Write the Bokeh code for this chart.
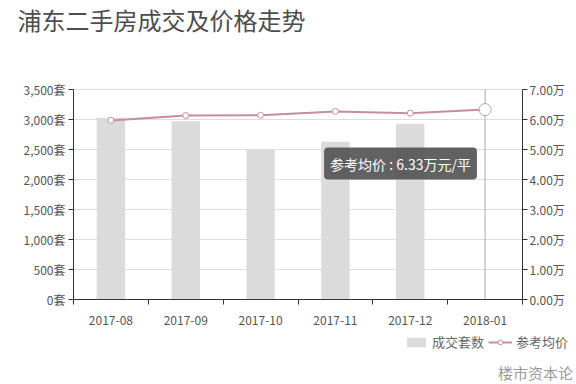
from bokeh.plotting import figure
from bokeh.models import (Range1d, LinearAxis, FixedTicker, CustomJSTickFormatter, Label,
                          Legend, LegendItem, ColumnDataSource)
from bokeh.embed import file_html
from bokeh.resources import INLINE
import numpy as np

months = ["2017-08", "2017-09", "2017-10", "2017-11", "2017-12", "2018-01"]
deals = [3030, 2970, 2490, 2630, 2930, np.nan]
prices = [5.97, 6.13, 6.14, 6.27, 6.21, 6.33]
deal_ticks = [0, 500, 1000, 1500, 2000, 2500, 3000, 3500]
price_ticks = [0, 1, 2, 3, 4, 5, 6, 7]
title_text = "浦东二手房成交及价格走势"
tooltip_text = "参考均价 : 6.33万元/平"
watermark = "楼市资本论"
legend_labels = ["成交套数", "参考均价"]

FONT = "Noto Sans CJK SC"
GREY = "#555555"

# layout in pixels (plot area of the axes inside the 576x384 canvas)
W, H = 576, 384
AX_TOP, AX_BOTTOM, AX_LEFT, AX_RIGHT = 89, 299, 73, 522

def extended_y(lo, hi):
    per_px = (hi - lo) / (AX_BOTTOM - AX_TOP)
    return Range1d(lo - (H - AX_BOTTOM) * per_px, hi + AX_TOP * per_px)

def extended_x(lo, hi):
    per_px = (hi - lo) / (AX_RIGHT - AX_LEFT)
    return Range1d(lo - AX_LEFT * per_px, hi + (W - AX_RIGHT) * per_px)

xs = list(range(1, len(months) + 1))
X0, X1 = xs[0] - 0.5, xs[-1] + 0.5
src = ColumnDataSource(dict(x=xs, deals=deals, prices=prices, month=months))

p = figure(width=W, height=H, output_backend="svg", toolbar_location=None, title=None,
           x_range=extended_x(X0, X1),
           y_range=extended_y(deal_ticks[0], deal_ticks[-1]),
           min_border_left=0, min_border_right=0, min_border_top=0, min_border_bottom=0)
p.outline_line_color = None
p.background_fill_color = "white"
p.border_fill_color = "white"
p.extra_y_ranges = {"price": extended_y(price_ticks[0], price_ticks[-1])}
p.xgrid.visible = False
p.ygrid.visible = False

# horizontal grid lines at the left-axis ticks
p.segment(x0=[X0] * len(deal_ticks), x1=[X1] * len(deal_ticks), y0=deal_ticks, y1=deal_ticks,
          line_color="#dddddd", line_width=1)

bars = p.vbar(x="x", top="deals", width=0.38, source=src, fill_color="#dcdbdc", line_color=None)
line = p.line(x="x", y="prices", source=src, y_range_name="price", line_color="#c48f9a", line_width=2)
pts = p.scatter(x="x", y="prices", source=src, y_range_name="price", size=6,
                fill_color="white", line_color="#c48f9a", line_width=1)

# hovered month: pointer line and emphasised point
Xlast = xs[-1]
p.segment(x0=[Xlast], y0=[deal_ticks[0]], x1=[Xlast], y1=[deal_ticks[-1]],
          line_color="#aaaaaa", line_width=1)
p.scatter(x=[Xlast], y=[prices[-1]], y_range_name="price", size=12,
          fill_color="white", line_color="#aaaaaa", line_width=1)

# x axis, drawn at y = 0
xa = p.xaxis[0]
xa.fixed_location = 0
xa.bounds = (X0, X1)
xa.ticker = FixedTicker(ticks=xs, minor_ticks=[v - 0.5 for v in xs] + [X1])
xa.major_label_overrides = {x: m for x, m in zip(xs, months)}
xa.major_tick_line_color = None
xa.minor_tick_line_color = "#333333"
xa.minor_tick_out = 5
xa.minor_tick_in = 0
xa.axis_line_color = "#333333"
xa.major_label_standoff = 10
xa.major_label_text_font = FONT
xa.major_label_text_font_size = "12px"
xa.major_label_text_color = GREY

# left axis
ya = p.yaxis[0]
ya.fixed_location = X0
ya.ticker = FixedTicker(ticks=deal_ticks)
ya.bounds = (deal_ticks[0], deal_ticks[-1])
ya.formatter = CustomJSTickFormatter(code="return tick.toLocaleString('en-US') + '套';")
ya.axis_line_color = "#333333"
ya.major_tick_line_color = "#333333"
ya.major_tick_out = 5
ya.major_tick_in = 0
ya.minor_tick_line_color = None
ya.major_label_standoff = 3
ya.major_label_text_font = FONT
ya.major_label_text_font_size = "12px"
ya.major_label_text_color = GREY

# right axis
ra = LinearAxis(y_range_name="price", ticker=FixedTicker(ticks=price_ticks),
                bounds=(price_ticks[0], price_ticks[-1]), fixed_location=X1,
                formatter=CustomJSTickFormatter(code="return tick.toFixed(2) + '万';"))
ra.axis_line_color = "#333333"
ra.major_tick_line_color = "#333333"
ra.major_tick_out = 5
ra.major_tick_in = 0
ra.minor_tick_line_color = None
ra.major_label_standoff = 2
ra.major_label_text_font = FONT
ra.major_label_text_font_size = "12px"
ra.major_label_text_color = GREY
p.add_layout(ra, "right")

# title
p.add_layout(Label(x=X0, y=deal_ticks[-1], x_offset=-56, y_offset=70, text=title_text,
                   text_font=FONT, text_font_size="24px", text_color="#4d4d4d",
                   text_baseline="middle", text_align="left"))

# tooltip
p.add_layout(Label(x=Xlast, y=prices[-1], y_range_name="price", x_offset=-161, y_offset=-54,
                   text=tooltip_text, text_font=FONT, text_font_size="14px", text_color="white",
                   text_baseline="middle", text_align="left",
                   background_fill_color="#555555", background_fill_alpha=0.92,
                   border_radius=4, padding=6))

# watermark
p.add_layout(Label(x=Xlast, y=0, x_offset=13, y_offset=-73, text=watermark,
                   text_font=FONT, text_font_size="15px", text_color="#9a9a9a",
                   text_baseline="middle", text_align="left"))

legend = Legend(items=[LegendItem(label=legend_labels[0], renderers=[bars]),
                       LegendItem(label=legend_labels[1], renderers=[line, pts])],
                orientation="horizontal", location=(404, 33),
                glyph_width=24, glyph_height=12, label_standoff=4, spacing=4,
                label_text_font=FONT, label_text_font_size="13px", label_text_color="#666666",
                background_fill_alpha=0, border_line_color=None, padding=2, margin=0)
p.add_layout(legend, "center")

open("out.html", "w").write(file_html(p, INLINE))
